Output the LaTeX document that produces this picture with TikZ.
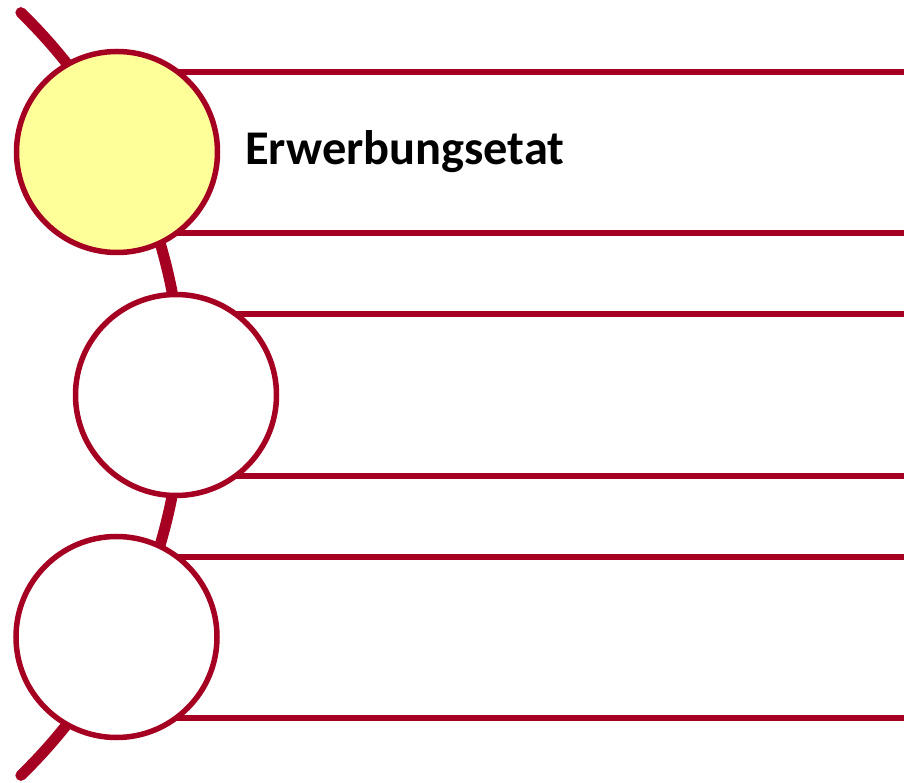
\documentclass[tikz,border=0pt]{standalone}
\usepackage{fontspec}
\setmainfont{Carlito}
\definecolor{dred}{HTML}{A50021}
\definecolor{lyellow}{HTML}{FFFF99}
\tikzset{
  spine/.style={draw=dred, line width=11pt, line cap=round},
  bar/.style={draw=dred, line width=5.5pt},
  disc/.style={circle, draw=dred, line width=5.5pt, minimum size=201pt, inner sep=0pt, fill=white},
  label/.style={anchor=base west, inner sep=0pt, font=\bfseries\fontsize{48.4}{58}\selectfont}
}
\begin{document}
\begin{tikzpicture}[x=1pt,y=1pt]
\useasboundingbox (0,0) rectangle (904,782);
\coordinate (ac) at (-350,388);
\draw[spine] (ac) ++(45.8:532) arc[start angle=45.8, end angle=-45.8, radius=532];
% horizontal bars
\coordinate (r1a) at (904,710);
\coordinate (r1b) at (904,549);
\coordinate (r2a) at (904,468);
\coordinate (r2b) at (904,306);
\coordinate (r3a) at (904,225);
\coordinate (r3b) at (904,64);
\coordinate (l1a) at (117,710);
\coordinate (l1b) at (117,549);
\coordinate (l2a) at (176,468);
\coordinate (l2b) at (176,306);
\coordinate (l3a) at (116.5,225);
\coordinate (l3b) at (116.5,64);
\draw[bar] (l1a) -- (r1a);
\draw[bar] (l1b) -- (r1b);
\draw[bar] (l2a) -- (r2a);
\draw[bar] (l2b) -- (r2b);
\draw[bar] (l3a) -- (r3a);
\draw[bar] (l3b) -- (r3b);
% circles
\node[disc, fill=lyellow] (c1) at (117,630) {};
\node[disc] (c2) at (176,387) {};
\node[disc] (c3) at (116.5,145) {};
\node[label] (t1) at (245,617) {Erwerbungsetat};
\end{tikzpicture}
\end{document}
